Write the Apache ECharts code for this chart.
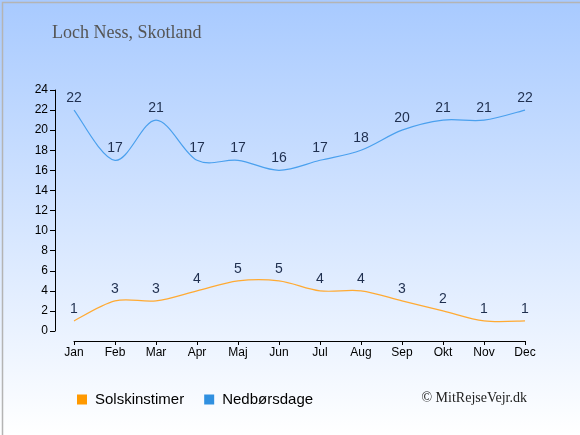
<!DOCTYPE html>
<html>
<head>
<meta charset="utf-8">
<script src="https://cdn.jsdelivr.net/npm/echarts@6/dist/echarts.min.js"></script>
<style>
  html, body { margin: 0; padding: 0; }
  #renderChart { width: 580px; height: 435px; }
</style>
</head>
<body>
<div id="renderChart"></div>
<script>
// data
const months = ['Jan', 'Feb', 'Mar', 'Apr', 'Maj', 'Jun', 'Jul', 'Aug', 'Sep', 'Okt', 'Nov', 'Dec'];
const sunHours = [1, 3, 3, 4, 5, 5, 4, 4, 3, 2, 1, 1];
const rainDays = [22, 17, 21, 17, 17, 16, 17, 18, 20, 21, 21, 22];

const myChart = echarts.init(document.getElementById('renderChart'));

const labelStyle = {
  show: true,
  position: 'top',
  distance: 5,
  color: '#1f2f4f',
  fontFamily: 'Liberation Sans',
  fontSize: 14
};

// catmull-rom style curve, one bezier segment per data point
function curveSeries(values, color) {
  return {
    type: 'custom',
    silent: true,
    data: values.map((v, i) => [i, v]),
    renderItem: function (params, api) {
      const i = api.value(0);
      if (i >= values.length - 1) return null;
      const pt = k => {
        const j = Math.max(0, Math.min(values.length - 1, k));
        return api.coord([j, values[j]]);
      };
      const p0 = pt(i - 1), p1 = pt(i), p2 = pt(i + 1), p3 = pt(i + 2);
      return {
        type: 'bezierCurve',
        shape: {
          x1: p1[0], y1: p1[1],
          x2: p2[0], y2: p2[1],
          cpx1: p1[0] + (p2[0] - p0[0]) / 6,
          cpy1: p1[1] + (p2[1] - p0[1]) / 6,
          cpx2: p2[0] - (p3[0] - p1[0]) / 6,
          cpy2: p2[1] - (p3[1] - p1[1]) / 6
        },
        style: { fill: 'none', stroke: color, lineWidth: 1.2 }
      };
    }
  };
}

const option = {
  animation: false,
  backgroundColor: {
    type: 'linear', x: 0, y: 0, x2: 0, y2: 1,
    colorStops: [
      { offset: 0, color: '#a8caff' },
      { offset: 1, color: '#ffffff' }
    ]
  },
  title: {
    text: 'Loch Ness, Skotland',
    left: 47,
    top: 19,
    textStyle: { fontFamily: 'Liberation Serif', fontWeight: 'normal', fontSize: 18, color: '#555555' }
  },
  grid: { left: 74, right: 55, top: 90, bottom: 104 },
  xAxis: {
    type: 'category',
    data: months,
    boundaryGap: false,
    offset: 10,
    axisLine: { onZero: false, lineStyle: { color: '#000', width: 1 } },
    axisTick: { length: 4 },
    axisLabel: { color: '#000', fontFamily: 'Liberation Sans', fontSize: 12, margin: 6 }
  },
  yAxis: {
    type: 'value',
    min: 0, max: 24, interval: 2,
    offset: 19,
    axisLine: { show: true, onZero: false, lineStyle: { color: '#000', width: 1 } },
    axisTick: { show: true, length: 5 },
    splitLine: { show: false },
    axisLabel: { color: '#000', fontFamily: 'Liberation Sans', fontSize: 12, margin: 7 }
  },
  legend: {
    left: 72,
    top: 387,
    itemWidth: 10,
    itemHeight: 10,
    itemGap: 20,
    icon: 'rect',
    textStyle: { fontFamily: 'Liberation Sans', fontSize: 15, color: '#000', padding: [0, 0, 0, 3] },
    data: ['Solskinstimer', 'Nedbørsdage']
  },
  graphic: [
    {
      type: 'text', right: 53, top: 391,
      style: { text: '© MitRejseVejr.dk', font: '14px "Liberation Serif"', fill: '#222' }
    },
    {
      type: 'rect', left: 0, top: 0, silent: true,
      shape: { x: 0.75, y: 0.75, width: 578.5, height: 433.5 },
      style: { fill: 'none', stroke: '#b4b4b4', lineWidth: 1.5 }
    }
  ],
  series: [
    {
      name: 'Solskinstimer',
      type: 'line',
      data: sunHours,
      symbol: 'circle',
      symbolSize: 0,
      color: '#ff9900',
      lineStyle: { opacity: 0 },
      label: labelStyle
    },
    {
      name: 'Nedbørsdage',
      type: 'line',
      data: rainDays,
      symbol: 'circle',
      symbolSize: 0,
      color: '#3090e0',
      lineStyle: { opacity: 0 },
      label: labelStyle
    },
    curveSeries(sunHours, '#ffaa33'),
    curveSeries(rainDays, '#4aa0ee')
  ]
};

myChart.setOption(option);
</script>
</body>
</html>
